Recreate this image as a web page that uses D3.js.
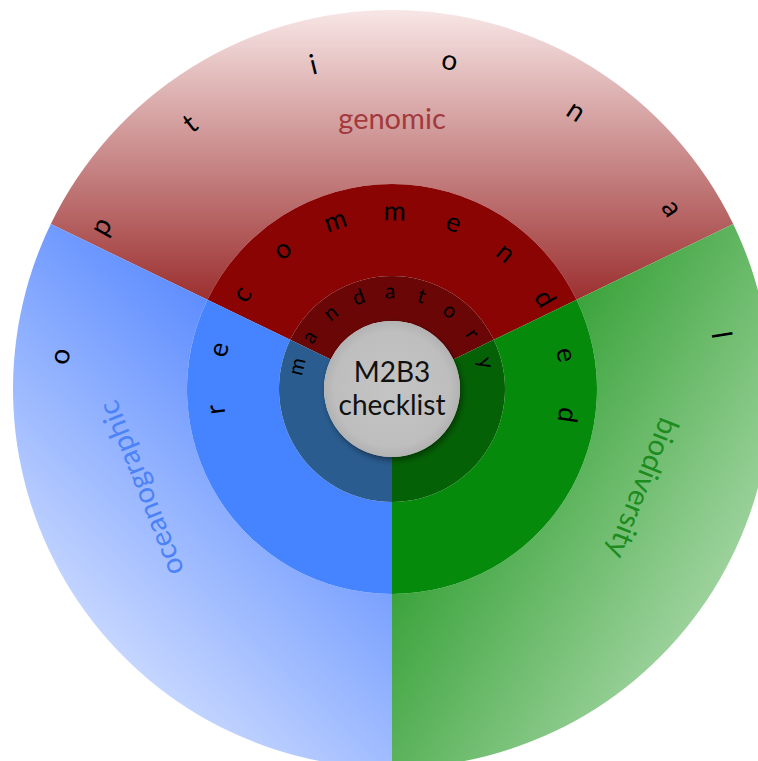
<!DOCTYPE html>
<html>
<head>
<meta charset="utf-8">
<script src="https://cdn.jsdelivr.net/npm/d3@7"></script>
<style>
  html, body { margin: 0; padding: 0; background: #fff; }
  svg { display: block; font-family: Lato, "Open Sans", sans-serif; }
</style>
</head>
<body>
<svg id="chart" width="758" height="761"></svg>
<script>
'use strict';

// sectors of the checklist (share of the circle, in degrees)
const categories = ["genomic", "biodiversity", "oceanographic"];
const sectorShares = [128.4, 115.8, 115.8];
// rings from the inside out
const levels = ["mandatory", "recommended", "optional"];
const centerLabel = ["M2B3", "checklist"];

// fills per category, inner ring -> outer ring
const fills = {
    genomic: ["#6a0606", "#8b0404", "url(#gradRed)"],
    biodiversity: ["#056106", "#068a0b", "url(#gradGreen)"],
    oceanographic: ["#2a5c8f", "#4583ff", "url(#gradBlue)"]
};
const labelColors = { genomic: "#a3393d", biodiversity: "#1b8c1d", oceanographic: "#4c82f7" };

const width = 758, height = 761;
const cx = 392, cy = 389;
const radii = [68, 113, 205, 379];
const rad = Math.PI / 180;

const svg = d3.select("#chart");
const defs = svg.append("defs");

function linGrad(id, x1, y1, x2, y2, c1, c2) {
    const gr = defs.append("linearGradient").attr("id", id)
        .attr("gradientUnits", "userSpaceOnUse")
        .attr("x1", x1 - cx).attr("y1", y1 - cy).attr("x2", x2 - cx).attr("y2", y2 - cy);
    gr.append("stop").attr("offset", 0).attr("stop-color", c1);
    gr.append("stop").attr("offset", 1).attr("stop-color", c2);
}
linGrad("gradRed", 0, 10, 0, 300, "#f8e6e6", "#9c3030");
linGrad("gradBlue", 70, 690, 330, 420, "#d8e3ff", "#5f8eff");
linGrad("gradGreen", 590, 250, 960, 480, "#36a136", "#d2ecd2");

const shadow = defs.append("filter").attr("id", "shadow")
    .attr("x", "-30%").attr("y", "-30%").attr("width", "160%").attr("height", "160%");
shadow.append("feDropShadow").attr("dx", 2).attr("dy", 3).attr("stdDeviation", 3)
    .attr("flood-color", "#000").attr("flood-opacity", 0.45);

const centerGrad = defs.append("radialGradient").attr("id", "gradCenter");
centerGrad.append("stop").attr("offset", 0).attr("stop-color", "#c4c4c4");
centerGrad.append("stop").attr("offset", 0.85).attr("stop-color", "#bebebe");
centerGrad.append("stop").attr("offset", 1).attr("stop-color", "#b2b2b2");

const g = svg.append("g").attr("transform", "translate(" + cx + "," + cy + ")");

const sectors = categories.map((c, i) => ({ name: c, share: sectorShares[i] }));
const start = -sectorShares[0] / 2 * rad;
const pie = d3.pie().sort(null).value(d => d.share)
    .startAngle(start).endAngle(start + 2 * Math.PI);
const slices = pie(sectors);

// draw rings from outside in so the seams stay clean
levels.slice().reverse().forEach(function (level) {
    const li = levels.indexOf(level);
    const arc = d3.arc().innerRadius(radii[li]).outerRadius(radii[li + 1]);
    g.append("g").attr("class", "ring ring-" + level)
        .selectAll("path")
        .data(slices)
        .enter().append("path")
        .attr("d", arc)
        .attr("fill", d => fills[d.data.name][li]);
});

// category labels in the outer ring
g.append("g").selectAll("text")
    .data(slices)
    .enter().append("text")
    .attr("transform", function (d) {
        let a = (d.startAngle + d.endAngle) / 2 / rad;
        if (a > 180) a -= 360;
        if (Math.abs(a) > 1) a = a - Math.sign(a) * 10.5;
        return "rotate(" + a + ") translate(0," + (-270) + ")";
    })
    .attr("text-anchor", "middle")
    .attr("dy", "0.35em")
    .style("font-size", "29px")
    .attr("fill", d => labelColors[d.data.name])
    .text(d => d.data.name);

// ring names written letter by letter along the rings
const ringText = [
    { r: 98, from: -76.6, to: 74.4, size: 21 },
    { r: 178, from: -96.7, to: 98.4, size: 27 },
    { r: 334, from: -84.4, to: 80.7, size: 28 }
];
levels.forEach(function (level, li) {
    const t = ringText[li];
    const letters = level.split("");
    const step = (t.to - t.from) / (letters.length - 1);
    g.append("g").selectAll("text")
        .data(letters)
        .enter().append("text")
        .attr("transform", (d, i) => "rotate(" + (t.from + i * step) + ") translate(0," + (-t.r) + ")")
        .attr("text-anchor", "middle")
        .attr("dy", "0.35em")
        .style("font-size", t.size + "px")
        .attr("fill", "#000")
        .text(d => d);
});

// centre disc
g.append("circle").attr("r", radii[0])
    .attr("fill", "url(#gradCenter)")
    .attr("filter", "url(#shadow)");

g.append("g").selectAll("text")
    .data(centerLabel)
    .enter().append("text")
    .attr("text-anchor", "middle")
    .attr("y", (d, i) => (i - 0.5) * 33)
    .attr("dy", "0.35em")
    .style("font-size", "28px")
    .attr("fill", "#111")
    .text(d => d);
</script>
</body>
</html>
